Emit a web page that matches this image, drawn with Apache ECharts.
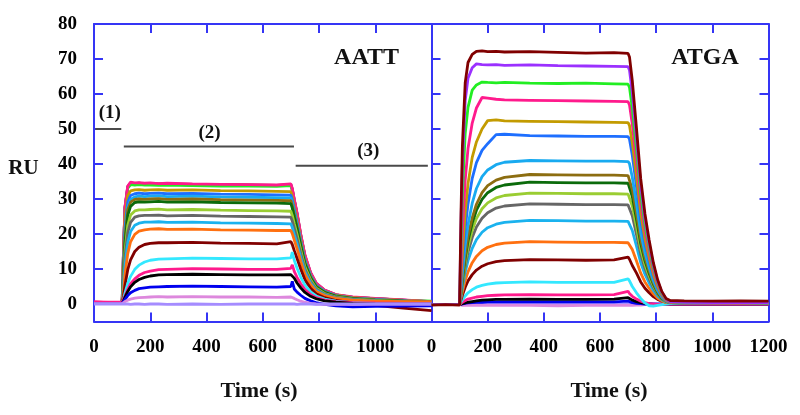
<!DOCTYPE html>
<html><head><meta charset="utf-8">
<script src="https://cdn.jsdelivr.net/npm/echarts@6/dist/echarts.min.js"></script>
<style>html,body{margin:0;padding:0;background:#fff}#c{width:800px;height:415px}</style>
</head><body><div id="c"></div>
<script>
// ---------- data ----------
const xLabelsAATT = [0, 200, 400, 600, 800, 1000];
const xLabelsATGA = [0, 200, 400, 600, 800, 1000, 1200];
const yTicks = [0, 10, 20, 30, 40, 50, 60, 70, 80];

const timeAATT = [0, 50, 100, 105, 110, 120, 130, 145, 160, 180, 200, 230, 260, 350, 450, 550, 650, 700, 705, 712, 722, 735, 750, 770, 790, 820, 860, 920, 1000, 1100, 1200];
const aatt01 = [0.2, 0.1, 0.2, 15.4, 27.5, 33.5, 34.5, 34.4, 34.5, 34.3, 34.4, 34.3, 34.3, 34.2, 34.1, 34.0, 33.9, 34.1, 32.8, 29.8, 25.8, 19.8, 13.8, 8.9, 5.9, 3.9, 2.6, 1.9, 1.5, 1.1, 0.6];
const aatt02 = [0.2, 0.2, 0.1, 15.2, 27.3, 33.3, 34.3, 34.3, 34.3, 34.2, 34.2, 34.1, 34.2, 34.0, 33.9, 33.9, 33.8, 34.0, 32.6, 29.6, 25.6, 19.6, 13.6, 8.8, 5.8, 3.9, 2.6, 1.9, 1.5, 1.1, 0.7];
const aatt03 = [0.3, 0.2, 0.3, 15.0, 27.0, 33.1, 34.1, 34.0, 34.1, 34.0, 34.0, 33.9, 34.0, 33.8, 33.7, 33.7, 33.6, 33.8, 32.4, 29.4, 25.4, 19.4, 13.4, 8.7, 5.7, 3.8, 2.6, 1.9, 1.5, 1.1, 0.8];
const aatt04 = [0.6, 0.5, 0.5, 15.6, 27.7, 33.7, 34.8, 34.6, 34.7, 34.5, 34.6, 34.4, 34.5, 34.3, 34.2, 34.1, 34.0, 34.3, 33.0, 30.0, 26.0, 20.0, 14.0, 9.0, 6.0, 4.0, 2.7, 2.0, 1.6, 1.2, 0.7];
const aatt05 = [0.3, 0.1, 0.2, 12.7, 24.1, 31.0, 32.3, 32.6, 32.7, 32.5, 32.6, 32.7, 32.5, 32.6, 32.4, 32.3, 32.2, 32.1, 30.7, 27.9, 24.1, 18.6, 12.8, 8.3, 5.4, 3.7, 2.5, 1.8, 1.4, 1.0, 0.6];
const aatt06 = [0.2, 0.1, 0.2, 11.1, 21.5, 29.1, 31.0, 31.5, 31.7, 31.5, 31.6, 31.7, 31.5, 31.6, 31.4, 31.3, 31.2, 31.1, 29.7, 27.0, 23.3, 18.0, 12.4, 8.1, 5.3, 3.6, 2.4, 1.7, 1.3, 0.9, 0.5];
const aatt07 = [0.2, 0.2, 0.2, 9.5, 19.4, 27.6, 29.9, 30.6, 30.8, 30.7, 30.8, 30.9, 30.7, 30.8, 30.6, 30.5, 30.4, 30.3, 28.9, 26.3, 22.7, 17.5, 12.1, 7.9, 5.1, 3.5, 2.3, 1.6, 1.2, 0.8, 0.4];
const aatt08 = [0.2, 0.2, 0.2, 9.3, 18.9, 26.9, 29.1, 29.9, 30.0, 29.9, 30.0, 30.1, 29.9, 30.0, 29.8, 29.7, 29.6, 29.5, 28.2, 25.6, 22.1, 17.1, 11.8, 7.7, 5.0, 3.4, 2.3, 1.6, 1.2, 0.8, 0.5];
const aatt09 = [0.2, 0.2, 0.2, 8.2, 17.2, 25.3, 27.9, 29.0, 29.2, 29.1, 29.2, 29.3, 29.1, 29.2, 29.0, 28.9, 28.8, 28.7, 27.4, 24.9, 21.5, 16.6, 11.5, 7.5, 4.9, 3.3, 2.2, 1.5, 1.1, 0.8, 0.4];
const aatt10 = [0.2, 0.2, 0.2, 7.0, 14.9, 22.5, 25.4, 26.6, 26.9, 26.9, 27.0, 27.1, 26.9, 27.0, 26.8, 26.7, 26.6, 26.5, 25.3, 23.0, 19.9, 15.4, 10.6, 6.9, 4.5, 3.0, 2.0, 1.4, 1.0, 0.7, 0.4];
const aatt11 = [0.2, 0.2, 0.2, 6.1, 13.2, 20.4, 23.3, 24.8, 25.2, 25.3, 25.3, 25.4, 25.2, 25.3, 25.1, 25.0, 24.9, 24.8, 23.7, 21.6, 18.6, 14.4, 9.9, 6.4, 4.2, 2.8, 1.9, 1.3, 0.9, 0.6, 0.3];
const aatt12 = [0.2, 0.2, 0.2, 4.9, 10.8, 17.6, 20.7, 22.5, 23.1, 23.4, 23.4, 23.5, 23.3, 23.4, 23.2, 23.1, 23.0, 22.9, 21.9, 19.9, 17.2, 13.3, 9.2, 6.0, 3.9, 2.6, 1.7, 1.2, 0.8, 0.5, 0.3];
const aatt13 = [0.2, 0.2, 0.2, 3.6, 8.3, 14.4, 17.8, 19.9, 20.8, 21.2, 21.4, 21.5, 21.3, 21.4, 21.2, 21.1, 21.0, 21.0, 20.1, 18.3, 15.8, 12.2, 8.4, 5.5, 3.6, 2.4, 1.6, 1.1, 0.8, 0.7, 0.6];
const aatt14 = [0.1, 0.1, 0.1, 2.3, 5.3, 9.8, 12.6, 15.0, 16.2, 17.0, 17.3, 17.5, 17.5, 17.6, 17.4, 17.3, 17.2, 17.8, 17.0, 15.3, 13.0, 10.0, 6.9, 4.5, 2.9, 1.8, 1.0, 0.3, -0.4, -1.2, -1.9];
const aatt15 = [0.1, 0.1, 0.1, 1.4, 3.1, 5.9, 7.9, 9.9, 11.1, 12.0, 12.5, 12.8, 12.9, 13.1, 13.0, 12.9, 12.9, 13.2, 14.8, 12.5, 10.2, 7.7, 5.4, 3.5, 2.3, 1.4, 0.8, 0.4, 0.2, 0.1, 0.0];
const aatt16 = [0.6, 0.4, 0.5, 1.0, 2.2, 4.2, 5.8, 7.2, 8.2, 9.0, 9.4, 9.8, 9.9, 10.1, 10.0, 9.9, 9.9, 10.2, 11.2, 9.3, 7.6, 5.8, 4.1, 2.7, 1.8, 1.1, 0.7, 0.4, 0.3, 0.2, 0.2];
const aatt17 = [0.1, 0.1, 0.1, 0.9, 1.9, 3.6, 4.9, 6.2, 7.0, 7.6, 8.0, 8.3, 8.4, 8.5, 8.4, 8.3, 8.3, 8.4, 8.6, 7.4, 6.0, 4.6, 3.3, 2.2, 1.5, 0.9, 0.5, 0.2, 0.1, 0.0, 0.0];
const aatt18 = [0.1, 0.1, 0.1, 0.6, 1.3, 2.4, 3.2, 3.9, 4.4, 4.6, 4.8, 4.9, 5.0, 5.1, 5.0, 4.9, 4.8, 5.0, 6.5, 4.3, 3.4, 2.5, 1.6, 0.9, 0.4, -0.1, -0.5, -0.8, -0.7, -0.6, -0.5];
const aatt19 = [0.1, 0.1, 0.1, 0.4, 0.7, 1.1, 1.4, 1.7, 1.8, 1.9, 2.0, 2.1, 2.0, 2.1, 2.0, 2.0, 1.9, 2.0, 2.0, 1.6, 1.2, 0.8, 0.5, 0.2, 0.0, -0.1, -0.1, -0.1, 0.0, 0.0, 0.0];
const aatt20 = [0.0, 0.0, 0.0, 0.1, 0.0, 0.0, -0.1, 0.0, 0.0, -0.1, 0.0, 0.0, -0.1, 0.0, -0.1, 0.0, 0.0, 0.0, 0.0, 0.0, -0.1, 0.0, 0.0, 0.0, -0.1, 0.0, 0.0, 0.0, 0.0, 0.0, 0.0];

const timeATGA = [0, 50, 100, 105, 110, 120, 130, 145, 160, 180, 200, 230, 260, 350, 450, 550, 650, 700, 705, 715, 730, 745, 760, 775, 790, 805, 820, 835, 850, 900, 1000, 1100, 1200];
const atga01 = [-0.3, -0.2, -0.3, 25.8, 45.2, 63.2, 69.0, 71.3, 72.2, 72.3, 72.1, 72.2, 72.0, 72.1, 71.9, 71.7, 71.8, 71.6, 70.6, 63.8, 50.2, 35.8, 25.8, 18.3, 11.8, 7.0, 3.6, 1.6, 1.0, 0.9, 0.8, 0.9, 0.8];
const atga02 = [-0.2, -0.2, -0.2, 22.5, 40.3, 58.1, 64.5, 67.5, 68.6, 68.4, 68.3, 68.4, 68.2, 68.3, 68.1, 68.0, 67.9, 67.8, 66.8, 60.3, 47.5, 33.9, 24.4, 17.3, 11.2, 6.6, 3.4, 1.5, 0.7, 0.5, 0.4, 0.4, 0.3];
const atga03 = [-0.2, -0.2, -0.2, 16.4, 31.6, 48.7, 56.2, 61.1, 62.6, 63.4, 63.3, 63.2, 63.3, 63.1, 63.0, 63.1, 62.9, 62.8, 61.9, 55.9, 44.0, 31.4, 22.6, 16.0, 10.4, 6.1, 3.1, 1.4, 0.6, 0.4, 0.3, 0.3, 0.2];
const atga04 = [-0.2, -0.2, -0.2, 10.5, 20.9, 35.4, 44.4, 51.7, 56.0, 59.0, 58.8, 58.5, 58.3, 58.2, 58.1, 58.0, 57.9, 57.8, 56.9, 51.4, 40.5, 28.9, 20.8, 14.7, 9.5, 5.6, 2.9, 1.2, 0.5, 0.3, 0.2, 0.2, 0.1];
const atga05 = [-0.2, -0.2, -0.2, 7.3, 14.6, 26.3, 34.4, 41.9, 46.3, 50.0, 52.4, 52.6, 52.3, 52.2, 52.1, 52.0, 51.9, 51.8, 51.0, 46.1, 36.3, 25.9, 18.6, 13.2, 8.5, 5.0, 2.6, 1.1, 0.5, 0.3, 0.3, 0.2, 0.2];
const atga06 = [-0.2, -0.2, -0.2, 5.8, 11.8, 21.6, 28.6, 35.9, 40.4, 43.9, 45.8, 48.4, 48.5, 48.1, 48.0, 47.9, 47.9, 47.8, 47.1, 42.5, 33.5, 23.9, 17.2, 12.2, 7.9, 4.6, 2.4, 1.0, 0.4, 0.3, 0.2, 0.2, 0.1];
const atga07 = [-0.2, -0.2, -0.2, 4.3, 9.0, 16.8, 22.6, 28.8, 33.0, 36.4, 38.3, 39.8, 40.5, 41.0, 40.9, 40.8, 40.8, 40.7, 40.1, 36.2, 28.5, 20.4, 14.7, 10.4, 6.7, 3.9, 2.0, 0.9, 0.4, 0.3, 0.2, 0.2, 0.2];
const atga08 = [-0.2, -0.2, -0.2, 3.5, 7.4, 13.9, 19.2, 24.6, 28.5, 31.8, 33.8, 35.4, 36.2, 37.0, 36.9, 36.8, 36.8, 36.7, 36.2, 32.7, 25.7, 18.4, 13.2, 9.4, 6.1, 3.6, 1.8, 0.8, 0.4, 0.3, 0.3, 0.2, 0.2];
const atga09 = [-0.2, -0.2, -0.2, 3.3, 6.9, 13.1, 18.0, 23.1, 26.8, 29.9, 31.8, 33.3, 34.0, 34.8, 34.7, 34.6, 34.6, 34.5, 34.0, 30.7, 24.2, 17.3, 12.4, 8.8, 5.7, 3.3, 1.7, 0.8, 0.4, 0.3, 0.2, 0.2, 0.2];
const atga10 = [-0.2, -0.2, -0.2, 3.0, 6.3, 11.9, 16.4, 21.1, 24.4, 27.2, 28.9, 30.3, 31.0, 31.7, 31.6, 31.5, 31.5, 31.4, 31.0, 28.0, 22.0, 15.7, 11.3, 8.0, 5.2, 3.1, 1.6, 0.7, 0.4, 0.3, 0.2, 0.2, 0.2];
const atga11 = [-0.2, -0.2, -0.2, 2.7, 5.7, 10.7, 14.8, 19.0, 22.0, 24.5, 26.1, 27.4, 28.0, 28.6, 28.5, 28.4, 28.4, 28.3, 27.9, 25.2, 19.8, 14.2, 10.2, 7.2, 4.7, 2.8, 1.4, 0.7, 0.4, 0.3, 0.2, 0.2, 0.2];
const atga12 = [-0.2, -0.2, -0.2, 2.3, 4.8, 9.0, 12.4, 15.9, 18.4, 20.5, 21.8, 22.8, 23.3, 23.9, 23.8, 23.7, 23.7, 23.6, 23.3, 21.0, 16.5, 11.8, 8.5, 6.0, 3.9, 2.3, 1.2, 0.6, 0.3, 0.3, 0.2, 0.2, 0.2];
const atga13 = [-0.2, -0.2, -0.2, 1.7, 3.5, 6.7, 9.2, 11.8, 13.6, 15.2, 16.2, 17.0, 17.4, 17.8, 17.7, 17.6, 17.6, 17.5, 17.2, 15.6, 12.3, 8.8, 6.3, 4.5, 2.9, 1.7, 0.9, 0.4, 0.3, 0.2, 0.2, 0.2, 0.2];
const atga14 = [-0.2, -0.2, -0.2, 1.2, 2.5, 4.8, 6.6, 8.4, 9.7, 10.8, 11.5, 12.1, 12.4, 12.7, 12.6, 12.5, 12.6, 13.4, 12.8, 11.0, 8.8, 6.3, 4.5, 3.2, 2.1, 1.3, 0.8, 0.5, 0.4, 0.4, 0.4, 0.4, 0.4];
const atga15 = [-0.2, -0.2, -0.2, 0.6, 1.2, 2.3, 3.2, 4.1, 4.8, 5.3, 5.7, 6.0, 6.1, 6.3, 6.2, 6.2, 6.2, 7.2, 6.6, 5.0, 3.2, 1.6, 0.3, -0.5, -0.6, -0.4, -0.2, 0.0, 0.1, 0.1, 0.1, 0.1, 0.1];
const atga16 = [-0.2, -0.2, -0.2, 0.2, 0.5, 1.0, 1.4, 1.7, 2.0, 2.2, 2.4, 2.5, 2.6, 2.7, 2.6, 2.6, 2.7, 3.6, 3.0, 2.2, 1.4, 0.8, 0.4, 0.1, 0.0, -0.1, -0.1, 0.0, 0.0, 0.0, 0.0, 0.0, 0.0];
const atga17 = [-0.2, -0.2, -0.2, 0.0, 0.1, 0.3, 0.5, 0.7, 0.9, 1.1, 1.2, 1.3, 1.3, 1.4, 1.3, 1.3, 1.4, 1.8, 1.5, 1.1, 0.7, 0.4, 0.2, 0.0, -0.1, -0.1, -0.1, 0.0, 0.0, 0.0, 0.0, 0.0, 0.0];
const atga18 = [-0.2, -0.2, -0.2, -0.1, 0.0, 0.2, 0.3, 0.4, 0.5, 0.5, 0.6, 0.6, 0.6, 0.6, 0.6, 0.6, 0.6, 0.8, 0.6, 0.4, 0.2, 0.1, 0.0, 0.0, 0.0, 0.0, 0.0, 0.0, 0.0, 0.0, 0.0, 0.0, 0.0];
const atga19 = [-0.2, -0.2, -0.2, -0.3, -0.4, -0.4, -0.4, -0.4, -0.4, -0.4, -0.4, -0.4, -0.4, -0.4, -0.5, -0.4, -0.4, -0.4, -0.4, -0.4, -0.3, -0.3, -0.2, -0.2, -0.1, -0.1, -0.1, 0.0, 0.0, 0.0, 0.0, 0.0, 0.0];
const atga20 = [-0.1, -0.1, -0.1, -0.1, -0.1, -0.1, -0.1, -0.1, -0.1, -0.1, -0.1, -0.1, -0.1, -0.1, -0.1, -0.1, -0.1, -0.1, -0.1, -0.1, -0.1, -0.1, -0.1, -0.1, -0.1, -0.1, -0.1, -0.1, -0.1, -0.1, -0.1, -0.1, -0.1];

// phase markers (data units)
const phaseLine1 = [[5, 50], [97, 50]];
const phaseLine2 = [[106, 45], [711, 45]];
const phaseLine3 = [[717, 39.5], [1187, 39.5]];
const phaseNames = ['(1)', '(2)', '(3)'];
const phaseNamePos = [[56, 54.6], [411, 48.9], [975, 43.8]];

// ---------- styles ----------
const curveColors = ['#800000', '#9b30ff', '#22ee22', '#ff1a8c', '#c39b00', '#1e6fff', '#18aaf0', '#8c6d10', '#0b6b0b', '#9acd32', '#666666', '#1ab2ee', '#ff7010', '#800000', '#33e8ff', '#ff1a8c', '#000000', '#0000ee', '#dd88dd', '#a58cff'];
const AX = '#3535f5';
const SERIF = '"Liberation Serif", "Times New Roman", serif';

const aattSets = [aatt01, aatt02, aatt03, aatt04, aatt05, aatt06, aatt07, aatt08, aatt09, aatt10, aatt11, aatt12, aatt13, aatt14, aatt15, aatt16, aatt17, aatt18, aatt19, aatt20];
const atgaSets = [atga01, atga02, atga03, atga04, atga05, atga06, atga07, atga08, atga09, atga10, atga11, atga12, atga13, atga14, atga15, atga16, atga17, atga18, atga19, atga20];
const pairs = (ts, vs) => ts.map((t, i) => [t, vs[i]]);

const series = [];
aattSets.forEach((v, i) => series.push({
  type: 'line', xAxisIndex: 0, yAxisIndex: 0, data: pairs(timeAATT, v),
  showSymbol: false, symbol: 'none', silent: true, smooth: false,
  lineStyle: { color: curveColors[i], width: 2.8 }, z: 2
}));
for (let i = atgaSets.length - 1; i >= 0; i--) series.push({
  type: 'line', xAxisIndex: 2, yAxisIndex: 1, data: pairs(timeATGA, atgaSets[i]),
  showSymbol: false, symbol: 'none', silent: true,
  lineStyle: { color: curveColors[i], width: 2.8 }, z: 2
});
[phaseLine1, phaseLine2, phaseLine3].forEach(d => series.push({
  type: 'line', xAxisIndex: 0, yAxisIndex: 0, data: d, showSymbol: false, symbol: 'none', silent: true,
  lineStyle: { color: '#4a4a4a', width: 2 }, z: 3
}));
series.push({
  type: 'scatter', xAxisIndex: 0, yAxisIndex: 0, silent: true, symbolSize: 1,
  itemStyle: { color: 'rgba(255,255,255,0)' },
  data: phaseNamePos.map((p, i) => ({ name: phaseNames[i], value: p })),
  label: { show: true, position: 'inside', formatter: '{b}', color: '#111', opacity: 1, textBorderWidth: 0, textBorderColor: 'transparent', fontFamily: SERIF, fontWeight: 'bold', fontSize: 19 },
  z: 4
});

const tickLine = { color: AX, width: 2 };
const plain = v => String(v);
function xAx(grid, pos, labels) {
  return {
    type: 'value', gridIndex: grid, position: pos, min: 0, max: 1200, interval: 200,
    axisLine: { show: true, onZero: false, lineStyle: { color: AX, width: 2 } },
    axisTick: { show: true, inside: true, length: 9, lineStyle: tickLine },
    axisLabel: labels ? { show: true, customValues: labels, formatter: plain, margin: 16, color: '#000', fontFamily: SERIF, fontWeight: 'bold', fontSize: 19 } : { show: false },
    splitLine: { show: false }
  };
}
function yAx(grid, pos, labels) {
  return {
    type: 'value', gridIndex: grid, position: pos, min: -5, max: 80,
    axisLine: { show: true, onZero: false, lineStyle: { color: AX, width: 2 } },
    axisTick: { show: true, inside: true, length: 9, customValues: yTicks, lineStyle: tickLine },
    axisLabel: labels ? { show: true, customValues: yTicks, formatter: plain, margin: 17, color: '#000', fontFamily: SERIF, fontWeight: 'bold', fontSize: 19 } : { show: false },
    splitLine: { show: false }
  };
}

const chart = echarts.init(document.getElementById('c'), null, { renderer: 'canvas' });
chart.setOption({
  animation: false,
  backgroundColor: '#fff',
  grid: [
    { left: 94, top: 24, width: 337.5, height: 297.5 },
    { left: 431.5, top: 24, width: 337, height: 297.5 }
  ],
  xAxis: [xAx(0, 'bottom', xLabelsAATT), xAx(0, 'top', null), xAx(1, 'bottom', xLabelsATGA), xAx(1, 'top', null)],
  yAxis: [yAx(0, 'left', true), yAx(1, 'left', false), yAx(1, 'right', false)],
  series: series,
  graphic: [
    { type: 'text', x: 23.5, y: 169, style: { text: 'RU', font: 'bold 21px ' + SERIF, fill: '#111', textAlign: 'center', textVerticalAlign: 'middle', align: 'center', verticalAlign: 'middle' } },
    { type: 'text', x: 366.5, y: 58, style: { text: 'AATT', font: 'bold 24px ' + SERIF, fill: '#111', textAlign: 'center', textVerticalAlign: 'middle', align: 'center', verticalAlign: 'middle' } },
    { type: 'text', x: 705, y: 58, style: { text: 'ATGA', font: 'bold 24px ' + SERIF, fill: '#111', textAlign: 'center', textVerticalAlign: 'middle', align: 'center', verticalAlign: 'middle' } },
    { type: 'text', x: 259, y: 391, style: { text: 'Time (s)', font: 'bold 22px ' + SERIF, fill: '#111', textAlign: 'center', textVerticalAlign: 'middle', align: 'center', verticalAlign: 'middle' } },
    { type: 'text', x: 609, y: 391, style: { text: 'Time (s)', font: 'bold 22px ' + SERIF, fill: '#111', textAlign: 'center', textVerticalAlign: 'middle', align: 'center', verticalAlign: 'middle' } }
  ]
});
</script></body></html>
